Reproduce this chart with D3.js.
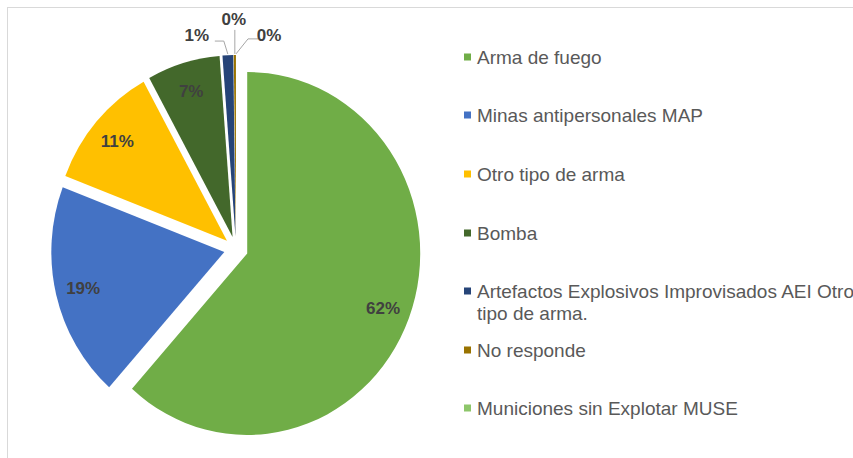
<!DOCTYPE html>
<html>
<head>
<meta charset="utf-8">
<script src="https://d3js.org/d3.v7.min.js"></script>
<style>
  html, body { margin: 0; padding: 0; background: #fff; }
  svg { display: block; font-family: "Liberation Sans", Arial, sans-serif; }
</style>
</head>
<body>
<div id="chart"></div>
<script>
// data
var categories = ["Arma de fuego", "Minas antipersonales MAP", "Otro tipo de arma", "Bomba",
                  "Artefactos Explosivos Improvisados AEI Otro tipo de arma.", "No responde",
                  "Municiones sin Explotar MUSE"];
var values = [61.6, 19.2, 11.2, 6.8, 1.0, 0.2, 0.0];
var colors = ["#70AD47", "#4472C4", "#FFC000", "#43682B", "#264478", "#997300", "#8DC66A"];
// legend lines (long label wraps)
var legendLines = [["Arma de fuego"], ["Minas antipersonales MAP"], ["Otro tipo de arma"], ["Bomba"],
                   ["Artefactos Explosivos Improvisados AEI Otro", "tipo de arma."], ["No responde"],
                   ["Municiones sin Explotar MUSE"]];

var width = 853, height = 458;
var cx = 236, cy = 249, radius = 173, explode = 12;
var ky = 1.049; // picture is a bit taller than wide

var svg = d3.select("#chart").append("svg")
    .attr("width", width)
    .attr("height", height);

// chart area border (runs off the right and bottom)
svg.append("rect")
    .attr("x", 7.5).attr("y", 7.5)
    .attr("width", 900).attr("height", 500)
    .attr("fill", "none")
    .attr("stroke", "#d9d9d9")
    .attr("stroke-width", 1);

var total = d3.sum(values);
var data = categories.map(function(c, i) { return {name: c, value: values[i], color: colors[i]}; });

var pie = d3.pie()
    .sort(null)
    .value(function(d) { return d.value; });

var path = d3.arc()
    .outerRadius(radius)
    .innerRadius(0);

var label = d3.arc()
    .outerRadius(radius * 0.84)
    .innerRadius(radius * 0.84);

function shift(d) {
    var a = (d.startAngle + d.endAngle) / 2;
    return [explode * Math.sin(a), -explode * Math.cos(a)];
}

var g = svg.append("g").attr("transform", "translate(" + cx + "," + cy + ") scale(1," + ky + ")");
var gl = svg.append("g").attr("transform", "translate(" + cx + "," + cy + ")");

var arcs = pie(data);

g.selectAll(".arc")
    .data(arcs)
    .enter().append("path")
    .attr("class", "arc")
    .attr("transform", function(d) { return "translate(" + shift(d) + ")"; })
    .attr("d", path)
    .attr("fill", function(d) { return d.data.color; });

// big slices: labels inside
gl.selectAll(".inlabel")
    .data(arcs.filter(function(d) { return d.value / total >= 0.03; }))
    .enter().append("text")
    .attr("class", "inlabel")
    .attr("x", function(d) { return shift(d)[0] + label.centroid(d)[0]; })
    .attr("y", function(d) { return (shift(d)[1] + label.centroid(d)[1]) * ky; })
    .attr("dy", "0.35em")
    .attr("text-anchor", "middle")
    .style("font-size", "17px")
    .style("font-weight", "bold")
    .style("fill", "#404040")
    .text(function(d) { return Math.round(d.value / total * 100) + "%"; });

// small slices: labels outside with leader lines
var nudge = [[-31, -19], [-1, -35], [33, -19]];
var small = arcs.filter(function(d) { return d.value / total < 0.03; });
small.forEach(function(d, k) {
    var a = (d.startAngle + d.endAngle) / 2;
    var s = shift(d);
    var px = s[0] + (radius + 1) * Math.sin(a),
        py = (s[1] - (radius + 1) * Math.cos(a)) * ky;
    var lx = px + nudge[k][0], ly = py + nudge[k][1];
    var pts;
    if (k === 0) pts = [[px, py], [px - 4, ly + 6], [lx + 18, ly + 6]];
    else if (k === 1) pts = [[px, py], [px, ly + 11]];
    else pts = [[px, py], [px + 12, ly + 4], [lx - 11, ly + 4]];
    gl.append("path")
        .attr("d", d3.line()(pts))
        .attr("fill", "none")
        .attr("stroke", "#a6a6a6")
        .attr("stroke-width", 1);
    gl.append("text")
        .attr("x", lx).attr("y", ly)
        .attr("dy", "0.35em")
        .attr("text-anchor", "middle")
        .style("font-size", "17px")
        .style("font-weight", "bold")
        .style("fill", "#404040")
        .text(Math.round(d.value / total * 100) + "%");
});

// legend
var legendY = [57, 115, 174, 233, 291, 350, 408];
var legend = svg.selectAll(".legend")
    .data(data)
    .enter().append("g")
    .attr("class", "legend")
    .attr("transform", function(d, i) { return "translate(464," + legendY[i] + ")"; });

legend.append("rect")
    .attr("x", 0).attr("y", -3.5)
    .attr("width", 7).attr("height", 7)
    .attr("fill", function(d) { return d.color; });

legend.append("text")
    .style("font-size", "19px")
    .style("fill", "#595959")
    .selectAll("tspan")
    .data(function(d, i) { return legendLines[i]; })
    .enter().append("tspan")
    .attr("x", 13)
    .attr("y", function(t, j) { return j * 22; })
    .attr("dy", "0.35em")
    .text(function(t) { return t; });
</script>
</body>
</html>
